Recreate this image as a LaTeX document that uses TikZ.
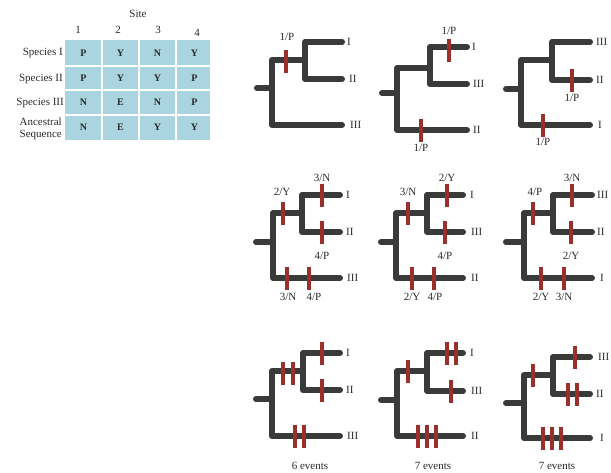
\documentclass[tikz,border=0pt]{standalone}
\usepackage{fontspec}
\setmainfont{Liberation Serif}
\definecolor{treegray}{HTML}{3A3A3A}
\definecolor{mutred}{HTML}{9A2F2C}
\definecolor{cellblue}{HTML}{AAD5E0}
\definecolor{inkgray}{HTML}{2A2A2A}

% phylogram: #1 stub start x, #2 main vertical x, #3 root y, #4 upper branch y,
% #5 lower tip y, #6 inner vertical x, #7 top tip y, #8 middle tip y, #9 tip x
\newcommand\phylo[9]{%
  \draw[br] (#1,#3) -- (#2,#3);
  \draw[br] (#9,#5) -- (#2,#5) -- (#2,#4) -- (#6,#4);
  \draw[br] (#9,#7) -- (#6,#7) -- (#6,#8) -- (#9,#8);
}
% one substitution mark centred on (#1,#2)
\newcommand\mut[2]{\draw[mk] (#1,{#2-11.5}) -- (#1,{#2+11.5});}

\begin{document}
\begin{tikzpicture}[x=1pt,y=-1pt,
  br/.style={draw=treegray,line width=6pt,line cap=round,line join=round},
  mk/.style={draw=mutred,line width=4pt},
  lab/.style={font=\fontsize{11}{12}\selectfont,text=inkgray,inner sep=0pt},
  tip/.style={lab,anchor=west},
  cell/.style={font=\fontsize{10}{11}\selectfont\bfseries,text=inkgray,inner sep=0pt},
  rowlab/.style={font=\fontsize{11}{12}\selectfont,text=inkgray,inner sep=0pt,anchor=east,align=center}]
\useasboundingbox (0,0) rectangle (611,472);

% ---- character table ----
\fill[cellblue] (65,40) rectangle (210,140);
\foreach \xx in {102,139,176} \draw[white,line width=1.2pt] (\xx,40) -- (\xx,140);
\foreach \yy in {66,90,115} \draw[white,line width=1.2pt] (65,\yy) -- (210,\yy);
\node[lab] (site) at (138,14) {Site};
\node[lab] (c1) at (78,30) {1};
\node[lab] (c2) at (118,30) {2};
\node[lab] (c3) at (158,30) {3};
\node[lab] (c4) at (197,33) {4};
\node[rowlab] (r1) at (63,53) {Species I};
\node[rowlab] (r2) at (63,79) {Species II};
\node[rowlab] (r3) at (64,103) {Species III};
\node[rowlab,font=\fontsize{11}{12}\selectfont] (r4) at (62,129) {Ancestral\\Sequence};
\foreach \row/\yy in {{P,Y,N,Y}/53,{P,Y,Y,P}/78,{N,E,N,P}/102,{N,E,Y,Y}/127}{
  \foreach \ch [count=\k] in \row {
    \pgfmathsetmacro\cx{83.5+37*(\k-1)}
    \node[cell] (t\k-\yy) at (\cx,\yy) {\ch};
  }
}

% ---- row 1: one change at site 1 ----
\phylo{257}{272}{88}{60}{125}{305}{42}{79}{342}
\mut{286}{61}
\node[lab] (a1) at (287,37) {1/P};
\node[tip] (a1i) at (347,42) {I};
\node[tip] (a1ii) at (349,79) {II};
\node[tip] (a1iii) at (350,125) {III};

\phylo{382}{397}{93}{68}{130}{430}{47}{84}{467}
\mut{449}{50}
\mut{421}{130}
\node[lab] (a2) at (449,31) {1/P};
\node[lab] (b2) at (421,148) {1/P};
\node[tip] (a2i) at (472,47) {I};
\node[tip] (a2iii) at (473,84) {III};
\node[tip] (a2ii) at (473,130) {II};

\phylo{506}{521}{89}{60}{125}{552}{42}{80}{590}
\mut{572}{80}
\mut{543}{125}
\node[lab] (a3) at (572,98) {1/P};
\node[lab] (b3) at (543,142) {1/P};
\node[tip] (a3iii) at (596,42) {III};
\node[tip] (a3ii) at (596,80) {II};
\node[tip] (a3i) at (598,125) {I};

% ---- row 2: sites 2, 3 and 4 ----
\phylo{256}{273}{242}{213}{278}{302}{195}{232}{340}
\mut{283}{213}
\mut{322}{195}
\mut{322}{232}
\mut{287}{278}
\mut{309}{278}
\node[lab] (d1) at (282,192) {2/Y};
\node[lab] (d2) at (322,178) {3/N};
\node[lab] (d3) at (322,256) {4/P};
\node[lab] (d4) at (288,297) {3/N};
\node[lab] (d5) at (314,297) {4/P};
\node[tip] (d1i) at (346,195) {I};
\node[tip] (d1ii) at (346,232) {II};
\node[tip] (d1iii) at (347,278) {III};

\phylo{381}{396}{242}{213}{278}{427}{195}{232}{463}
\mut{408}{213}
\mut{447}{195}
\mut{445}{232}
\mut{412}{278}
\mut{434}{278}
\node[lab] (e1) at (408,192) {3/N};
\node[lab] (e2) at (447,178) {2/Y};
\node[lab] (e3) at (445,256) {4/P};
\node[lab] (e4) at (412,297) {2/Y};
\node[lab] (e5) at (435,297) {4/P};
\node[tip] (e1i) at (470,195) {I};
\node[tip] (e1iii) at (471,232) {III};
\node[tip] (e1ii) at (471,278) {II};

\phylo{506}{524}{242}{213}{278}{553}{195}{232}{592}
\mut{533}{213}
\mut{572}{195}
\mut{571}{232}
\mut{541}{278}
\mut{564}{278}
\node[lab] (f1) at (535,192) {4/P};
\node[lab] (f2) at (572,178) {3/N};
\node[lab] (f3) at (571,256) {2/Y};
\node[lab] (f4) at (541,297) {2/Y};
\node[lab] (f5) at (564,297) {3/N};
\node[tip] (f1iii) at (597,195) {III};
\node[tip] (f1ii) at (597,232) {II};
\node[tip] (f1i) at (600,278) {I};

% ---- row 3: all changes counted ----
\phylo{256}{272}{399}{371}{436}{303}{353}{390}{340}
\mut{283}{373}
\mut{293}{373}
\mut{322}{353}
\mut{322}{390}
\mut{295}{436}
\mut{304}{436}
\node[tip] (g1i) at (346,353) {I};
\node[tip] (g1ii) at (346,390) {II};
\node[tip] (g1iii) at (347,436) {III};
\node[lab] (g1) at (310,466) {6 events};

\phylo{381}{397}{400}{371}{436}{427}{353}{391}{463}
\mut{408}{371}
\mut{447}{353}
\mut{456}{353}
\mut{451}{391}
\mut{418}{436}
\mut{427}{436}
\mut{436}{436}
\node[tip] (h1i) at (470,353) {I};
\node[tip] (h1iii) at (471,391) {III};
\node[tip] (h1ii) at (471,436) {II};
\node[lab] (h1) at (433,466) {7 events};

\phylo{506}{524}{403}{375}{438}{553}{357}{394}{590}
\mut{533}{375}
\mut{575}{357}
\mut{568}{394}
\mut{577}{394}
\mut{543}{438}
\mut{552}{438}
\mut{561}{438}
\node[tip] (k1iii) at (598,357) {III};
\node[tip] (k1ii) at (596,394) {II};
\node[tip] (k1i) at (600,438) {I};
\node[lab] (k1) at (557,466) {7 events};
\end{tikzpicture}
\end{document}
